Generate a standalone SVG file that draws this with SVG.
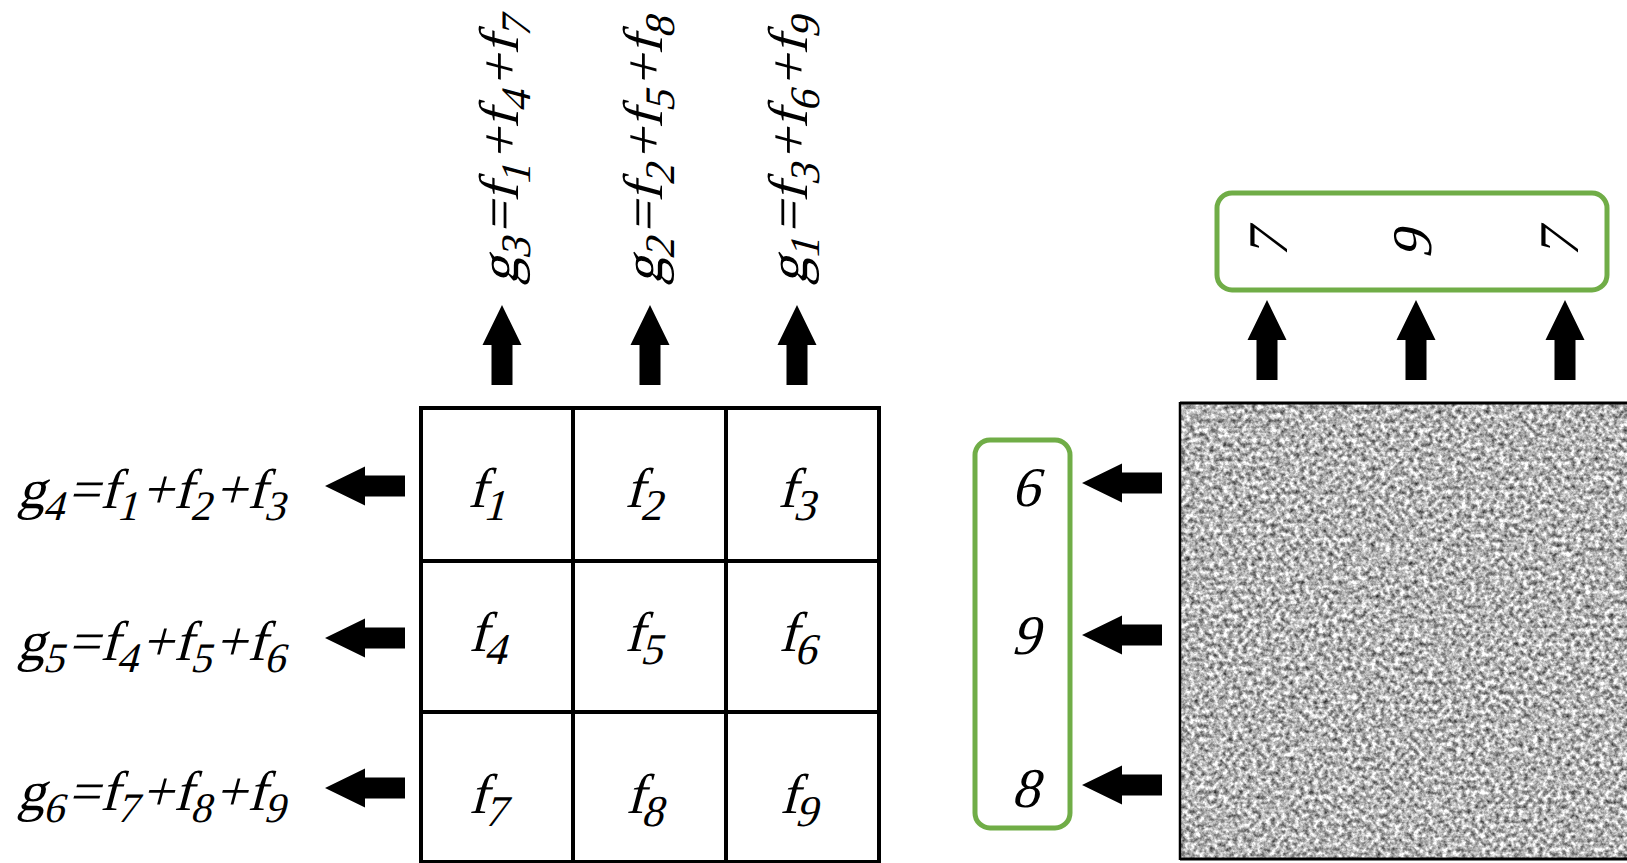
<svg xmlns="http://www.w3.org/2000/svg" width="1627" height="863" viewBox="0 0 1627 863">
<style>
.t{font-family:'Liberation Serif','Times New Roman',serif;font-style:normal;font-size:56px;fill:#000}
.lab{letter-spacing:0.8px}
.s{font-size:42px}
.cs{font-size:44px}
.grid{fill:none;stroke:#000;stroke-width:4}
.gbox{fill:none;stroke:#70ad47;stroke-width:5}
.arr{fill:#000}
</style>
<defs>
<path id="arrow" d="M0,0 L40,-19.5 L40,-10.5 L80,-10.5 L80,10.5 L40,10.5 L40,19.5 Z"/>
<filter id="noise" x="0" y="0" width="100%" height="100%" color-interpolation-filters="sRGB">
<feTurbulence type="fractalNoise" baseFrequency="0.21" numOctaves="3" seed="7"/>
<feColorMatrix type="matrix" values="1.3 0 0 0 0.06  1.3 0 0 0 0.06  1.3 0 0 0 0.06  0 0 0 0 1"/>
<feGaussianBlur stdDeviation="0.6"/>
</filter>
</defs>
<rect width="1627" height="863" fill="#fff"/>

<g id="left-labels">
<text id="g4" class="t lab" transform="translate(17,508) skewX(-15)">g<tspan class="s" dy="12">4</tspan><tspan dy="-12">=f</tspan><tspan class="s" dy="12">1</tspan><tspan dy="-12">+f</tspan><tspan class="s" dy="12">2</tspan><tspan dy="-12">+f</tspan><tspan class="s" dy="12">3</tspan></text>
<text id="g5" class="t lab" transform="translate(17,660) skewX(-15)">g<tspan class="s" dy="12">5</tspan><tspan dy="-12">=f</tspan><tspan class="s" dy="12">4</tspan><tspan dy="-12">+f</tspan><tspan class="s" dy="12">5</tspan><tspan dy="-12">+f</tspan><tspan class="s" dy="12">6</tspan></text>
<text id="g6" class="t lab" transform="translate(17,810) skewX(-15)">g<tspan class="s" dy="12">6</tspan><tspan dy="-12">=f</tspan><tspan class="s" dy="12">7</tspan><tspan dy="-12">+f</tspan><tspan class="s" dy="12">8</tspan><tspan dy="-12">+f</tspan><tspan class="s" dy="12">9</tspan></text>
</g>

<g id="top-labels">
<text id="g3" class="t lab" transform="translate(518,285) rotate(-90) skewX(-15)">g<tspan class="s" dy="12">3</tspan><tspan dy="-12">=f</tspan><tspan class="s" dy="12">1</tspan><tspan dy="-12">+f</tspan><tspan class="s" dy="12">4</tspan><tspan dy="-12">+f</tspan><tspan class="s" dy="12">7</tspan></text>
<text id="g2" class="t lab" transform="translate(662,285) rotate(-90) skewX(-15)">g<tspan class="s" dy="12">2</tspan><tspan dy="-12">=f</tspan><tspan class="s" dy="12">2</tspan><tspan dy="-12">+f</tspan><tspan class="s" dy="12">5</tspan><tspan dy="-12">+f</tspan><tspan class="s" dy="12">8</tspan></text>
<text id="g1" class="t lab" transform="translate(807,285) rotate(-90) skewX(-15)">g<tspan class="s" dy="12">1</tspan><tspan dy="-12">=f</tspan><tspan class="s" dy="12">3</tspan><tspan dy="-12">+f</tspan><tspan class="s" dy="12">6</tspan><tspan dy="-12">+f</tspan><tspan class="s" dy="12">9</tspan></text>
</g>

<g id="grid">
<rect class="grid" x="421" y="408" width="458" height="454"/>
<line class="grid" x1="573" y1="408" x2="573" y2="862"/>
<line class="grid" x1="726" y1="408" x2="726" y2="862"/>
<line class="grid" x1="421" y1="561" x2="879" y2="561"/>
<line class="grid" x1="421" y1="712" x2="879" y2="712"/>
</g>
<g id="cell-f1"><text class="t" transform="translate(488,507) skewX(-15)" text-anchor="middle">f<tspan class="cs" dy="13">1</tspan></text></g>
<g id="cell-f2"><text class="t" transform="translate(645,507) skewX(-15)" text-anchor="middle">f<tspan class="cs" dy="13">2</tspan></text></g>
<g id="cell-f3"><text class="t" transform="translate(798,507) skewX(-15)" text-anchor="middle">f<tspan class="cs" dy="13">3</tspan></text></g>
<g id="cell-f4"><text class="t" transform="translate(489,651) skewX(-15)" text-anchor="middle">f<tspan class="cs" dy="13">4</tspan></text></g>
<g id="cell-f5"><text class="t" transform="translate(645,651) skewX(-15)" text-anchor="middle">f<tspan class="cs" dy="13">5</tspan></text></g>
<g id="cell-f6"><text class="t" transform="translate(799,651) skewX(-15)" text-anchor="middle">f<tspan class="cs" dy="13">6</tspan></text></g>
<g id="cell-f7"><text class="t" transform="translate(489,813) skewX(-15)" text-anchor="middle">f<tspan class="cs" dy="13">7</tspan></text></g>
<g id="cell-f8"><text class="t" transform="translate(646,813) skewX(-15)" text-anchor="middle">f<tspan class="cs" dy="13">8</tspan></text></g>
<g id="cell-f9"><text class="t" transform="translate(800,813) skewX(-15)" text-anchor="middle">f<tspan class="cs" dy="13">9</tspan></text></g>

<g id="noise-image">
<rect x="1180" y="403" width="447" height="456" filter="url(#noise)"/>
<line x1="1180" y1="403" x2="1627" y2="403" stroke="#000" stroke-width="3"/>
<line x1="1180" y1="402" x2="1180" y2="860" stroke="#000" stroke-width="2.5"/>
<line x1="1180" y1="859" x2="1627" y2="859" stroke="#000" stroke-width="3"/>
</g>

<g id="row-sums">
<rect class="gbox" x="975" y="440" width="95" height="388" rx="15" ry="15"/>
<text class="t" transform="translate(1025,506) skewX(-15)" text-anchor="middle">6</text>
<text class="t" transform="translate(1025,654) skewX(-15)" text-anchor="middle">9</text>
<text class="t" transform="translate(1025,807) skewX(-15)" text-anchor="middle">8</text>
</g>

<g id="col-sums">
<rect class="gbox" x="1217" y="193" width="390" height="97" rx="15" ry="15"/>
<text class="t" text-anchor="middle" transform="translate(1287,245) rotate(-90) skewX(-15)">7</text>
<text class="t" text-anchor="middle" transform="translate(1431,245) rotate(-90) skewX(-15)">9</text>
<text class="t" text-anchor="middle" transform="translate(1578,245) rotate(-90) skewX(-15)">7</text>
</g>

<g id="connectors" class="arr">
<use href="#arrow" transform="translate(325,486)"/>
<use href="#arrow" transform="translate(325,638)"/>
<use href="#arrow" transform="translate(325,788)"/>
<use href="#arrow" transform="translate(502,305) rotate(90)"/>
<use href="#arrow" transform="translate(650,305) rotate(90)"/>
<use href="#arrow" transform="translate(797,305) rotate(90)"/>
<use href="#arrow" transform="translate(1082,483)"/>
<use href="#arrow" transform="translate(1082,635)"/>
<use href="#arrow" transform="translate(1082,785)"/>
<use href="#arrow" transform="translate(1267,300) rotate(90)"/>
<use href="#arrow" transform="translate(1416,300) rotate(90)"/>
<use href="#arrow" transform="translate(1565,300) rotate(90)"/>
</g>
</svg>
